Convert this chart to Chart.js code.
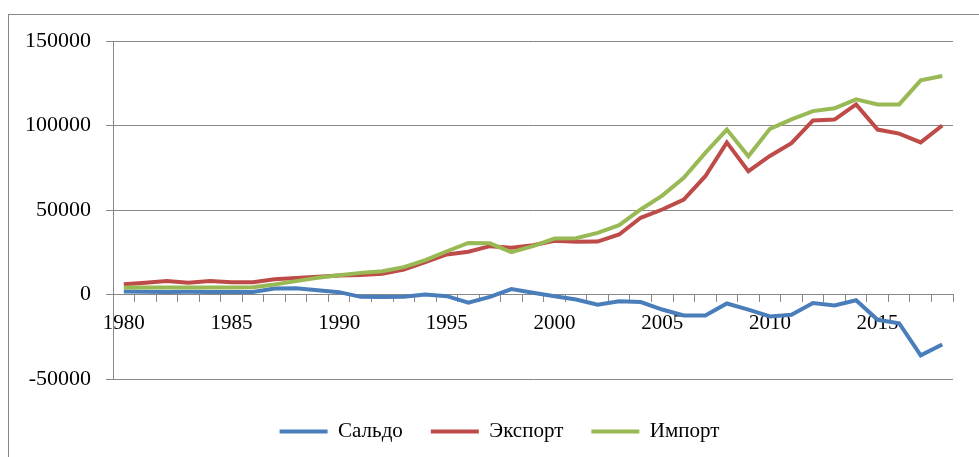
<!DOCTYPE html>
<html>
<head>
<meta charset="utf-8">
<script src="https://cdn.jsdelivr.net/npm/chart.js@4"></script>
<style>
    html, body { margin: 0; padding: 0; background: #fff; overflow: hidden; }
    #frame {
        position: absolute; left: 8px; top: 14px;
        width: 1000px; height: 480px;
        border: 1px solid #888;
    }
    #wrap { position: absolute; left: 0; top: 0; }
</style>
</head>
<body>
<div id="frame"></div>
<div id="wrap"><canvas id="balanceChart" width="979" height="452"></canvas></div>
<script>
// годы
const years = [];
for (let y = 1980; y <= 2018; y++) years.push(String(y));

// Сальдо
const saldo = [
    1800, 1700, 1500, 1600, 1500, 1500, 1500, 3500, 3700, 2500,
    1400, -1400, -1500, -1300, 0, -1000, -4900, -1400, 3200, 1000,
    -1000, -3000, -6000, -4000, -4500, -8900, -12400, -12400, -5300, -8900,
    -13000, -12000, -5000, -6500, -3400, -15000, -17000, -36000, -29600
];

// Экспорт
const exportVals = [
    6000, 7000, 8000, 7000, 8000, 7200, 7200, 9000, 9800, 10500,
    11300, 11600, 12200, 14800, 19100, 23700, 25300, 28600, 27600, 29200,
    31800, 31200, 31300, 35500, 45400, 50300, 56200, 70000, 90000, 73000,
    82000, 89500, 103000, 103500, 112500, 97600, 95200, 90000, 100000
];

// Импорт
const importVals = [
    4100, 4200, 4200, 4200, 4200, 4200, 4300, 5900, 7900, 9900,
    11400, 12800, 13800, 16200, 20300, 25600, 30500, 30300, 25000, 28600,
    33100, 33300, 36500, 41000, 50300, 58500, 69000, 83800, 97600, 81800,
    98000, 103600, 108500, 110200, 115500, 112500, 112500, 126700, 129300
];

const yTicks = [-50000, 0, 50000, 100000, 150000];

const fontName = "'Liberation Serif', 'Times New Roman', serif";
const gridColor = '#888888';

function makeLine(label, data, color, order) {
    return {
        label: label,
        data: data,
        xAxisID: 'x',
        yAxisID: 'y',
        borderColor: color,
        backgroundColor: color,
        borderWidth: 4,
        pointRadius: 0,
        tension: 0,
        fill: false,
        order: order
    };
}

const ctx = document.getElementById('balanceChart');

new Chart(ctx, {
    type: 'line',
    data: {
        labels: years,
        datasets: [
            makeLine('Сальдо', saldo, '#4A7EBB', 3),
            makeLine('Экспорт', exportVals, '#BE4B48', 2),
            makeLine('Импорт', importVals, '#98B954', 1)
        ]
    },
    options: {
        responsive: false,
        animation: false,
        devicePixelRatio: 1,
        layout: {
            // отрицательный правый отступ + пустая правая ось: легенда смещена вправо
            padding: { top: 41, right: -20, left: 0, bottom: 0 }
        },
        plugins: {
            tooltip: { enabled: false },
            legend: {
                position: 'bottom',
                reverse: true,
                labels: {
                    usePointStyle: true,
                    pointStyle: 'line',
                    pointStyleWidth: 48,
                    padding: 28,
                    color: '#000',
                    font: { family: fontName, size: 21 }
                }
            }
        },
        scales: {
            x: {
                type: 'category',
                position: { y: 0 },
                offset: true,
                grid: {
                    offset: true,
                    drawOnChartArea: false,
                    drawTicks: true,
                    tickLength: 7,
                    color: gridColor
                },
                border: { display: true, color: gridColor, width: 1 },
                ticks: {
                    autoSkip: false,
                    maxRotation: 0,
                    padding: 9,
                    color: '#000',
                    font: { family: fontName, size: 21 },
                    callback: function(value, index) {
                        const year = Number(years[index]);
                        return (year - 1980) % 5 === 0 ? years[index] : '';
                    }
                }
            },
            // пустая ось — отступ между графиком и легендой
            pad: {
                type: 'category',
                position: 'bottom',
                grid: { display: false },
                border: { display: false },
                ticks: { display: false },
                afterFit: function(scale) {
                    scale.height = 14;
                }
            },
            // пустая ось справа
            padRight: {
                type: 'linear',
                position: 'right',
                grid: { display: false },
                border: { display: false },
                ticks: { display: false },
                afterFit: function(scale) {
                    scale.width = 46;
                }
            },
            y: {
                min: yTicks[0],
                max: yTicks[yTicks.length - 1],
                afterFit: function(scale) {
                    scale.width = 113;
                },
                afterBuildTicks: function(scale) {
                    scale.ticks = yTicks.map(v => ({ value: v }));
                },
                grid: {
                    color: gridColor,
                    lineWidth: 1,
                    tickLength: 7
                },
                border: { display: true, color: gridColor, width: 1 },
                ticks: {
                    padding: 15,
                    color: '#000',
                    font: { family: fontName, size: 22 },
                    callback: function(value) {
                        return String(value);
                    }
                }
            }
        }
    }
});
</script>
</body>
</html>
